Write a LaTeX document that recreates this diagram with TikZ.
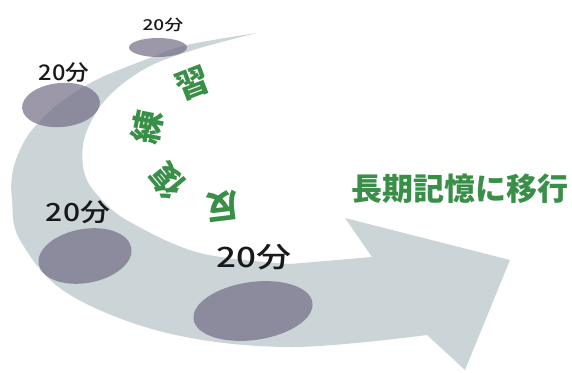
\documentclass[tikz,border=0pt]{standalone}
\usepackage{fontspec}
\newfontfamily\jp{Noto Sans CJK JP}
\newfontfamily\jpm{Noto Sans CJK JP}[UprightFont=* Medium]
\definecolor{band}{RGB}{203,213,216}
\definecolor{blob}{RGB}{114,108,134}
\definecolor{grn}{RGB}{58,143,72}
\tikzset{
  blobfill/.style={fill=blob, fill opacity=0.7},
  lbl/.style={inner sep=0pt, text=black!90},
  kanji/.style={inner sep=0pt, text=grn, font=\jp\bfseries\fontsize{33}{33}\selectfont},
}
\begin{document}
\begin{tikzpicture}[x=1pt, y=-1pt]
\useasboundingbox (0,0) rectangle (572,372);
% curved arrow band
\fill[band] plot[smooth, tension=0.6] coordinates {(257,33) (187,45) (150,58) (100,78) (65,99) (43,118) (25,140) (13,170) (12,200) (20,240) (67,293) (167,333) (290,347) (427,335)}
  -- (465,370) -- (510,260) -- (345,218) -- (372,257)
  -- plot[smooth, tension=0.6] coordinates {(290,264) (200,253) (130,222) (100,198) (85,175) (83,145) (93,118) (113,92) (150,66) (200,48) (257,33)} -- cycle;
% ellipses
\fill[blobfill] (158,47.5) ellipse (29 and 9.5);
\fill[blobfill, rotate around={5:(61,105)}] (61,105) ellipse (39 and 22);
\fill[blobfill, rotate around={10:(85,256)}] (85,256) ellipse (47 and 27);
\fill[blobfill, rotate around={8:(253,311)}] (253,311) ellipse (60 and 29);
% labels
\node[lbl, font=\jpm\fontsize{15}{15}\selectfont, xscale=1.27] (t1) at (163,25) {20分};
\node[lbl, font=\jpm\fontsize{21.5}{21.5}\selectfont, xscale=1.1] (t2) at (64,73) {20分};
\node[lbl, font=\jpm\fontsize{25}{25}\selectfont, xscale=1.2] (t3) at (78,212) {20分};
\node[lbl, font=\jpm\fontsize{28}{28}\selectfont, xscale=1.25] (t4) at (254,257) {20分};
% title
\node[inner sep=0pt, text=grn, font=\jp\bfseries\fontsize{31}{31}\selectfont] (title) at (460,189) {長期記憶に移行};
% rotated characters
\node[kanji, rotate=187] (k1) at (223,206) {反};
\node[kanji, rotate=130] (k2) at (167,181) {復};
\node[kanji, rotate=79] (k3) at (147,127) {練};
\node[kanji, rotate=21] (k4) at (193,84) {習};
\end{tikzpicture}
\end{document}
